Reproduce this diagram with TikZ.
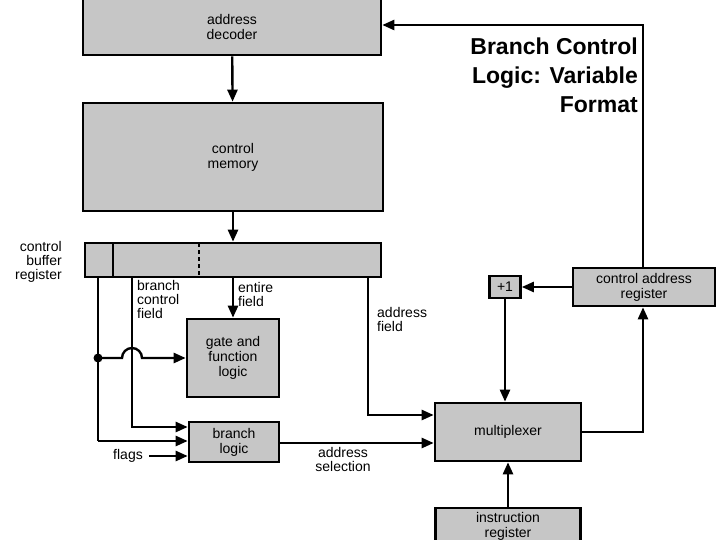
\documentclass[tikz,border=0pt]{standalone}
\usepackage{fontspec}
\setmainfont{Liberation Sans}
\usetikzlibrary{arrows.meta}
\begin{document}
\begin{tikzpicture}[x=1pt,y=-1pt,
  blk/.style={draw,line width=2.6pt,fill=gray!45,inner sep=0pt,font=\fontsize{14}{15}\selectfont,align=center},
  lbl/.style={font=\fontsize{14}{14}\selectfont,inner sep=0pt},
  wire/.style={line width=2.4pt},
  arr/.style={wire,-{Triangle[length=12pt,width=10pt]}}]
\useasboundingbox (0,0) rectangle (720,540);
\node[blk,minimum width=298,minimum height=56] (dec) at (232,27) {address\\decoder};
\node[blk,minimum width=300,minimum height=108] (mem) at (233,157) {control\\memory};
\node[blk,minimum width=296,minimum height=34] (cbr) at (233,260) {};
\draw[wire] (113,243) -- (113,277);
\draw[wire,dash pattern=on 4pt off 3pt] (199,243) -- (199,277);
\node[blk,minimum width=92,minimum height=78] (gfl) at (233,358) {gate and\\function\\logic};
\node[blk,minimum width=90,minimum height=40] (brl) at (234,442) {branch\\logic};
\node[blk,minimum width=146,minimum height=58] (mux) at (508,432) {multiplexer};
\node[blk,minimum width=145,minimum height=36] (ir) at (508,526) {instruction\\register};
\node[blk,minimum width=31,minimum height=22] (inc) at (505,287) {+1};
\node[blk,minimum width=142,minimum height=38] (car) at (644,287) {control address\\register};

\node[lbl,align=right,anchor=north east] (cbrl) at (62,241) {control\\buffer\\register};
\node[lbl,align=left,anchor=north west] (bcf) at (137,280) {branch\\control\\field};
\node[lbl,align=left,anchor=north west] (ef) at (238,282) {entire\\field};
\node[lbl,align=left,anchor=north west] (af) at (377,307) {address\\field};
\node[lbl,anchor=east] (flg) at (143,456) {flags};
\node[lbl,align=center,anchor=north] (asel) at (343,447) {address\\selection};
\node[font=\bfseries\fontsize{23}{29}\selectfont,align=right,anchor=north east,inner sep=0pt] (title) at (638,38) {Branch Control\\Logic: Variable\\Format};

\draw[arr] (dec) -- (mem);
\draw[arr] (mem) -- (cbr);
\draw[arr] (cbr.south -| gfl.north) -- (gfl);
\coordinate (dot) at (98,358);
\fill (dot) circle (4.5);
\draw[wire] (98,277) -- (98,441);
\draw[arr] (98,441) -- (brl.west |- 0,441);
\draw[arr] (dot) -- (122,358) arc[start angle=180,end angle=360,radius=10] -- (gfl.west |- dot);
\draw[arr] (132,277) -- (132,427) -- (brl.west |- 0,427);
\draw[arr] (flg.east) ++(6,0) -- (brl.west |- 0,456);
\draw[arr] (368,277) -- (368,415) -- (mux.west |- 0,415);
\draw[arr] (brl.east |- 0,443) -- (mux.west |- 0,443);
\draw[arr] (ir) -- (mux);
\draw[arr] (inc) -- (inc |- mux.north);
\draw[arr] (car) -- (inc);
\draw[arr] (mux.east) -- (643,432) -- (car.south -| 643,0);
\draw[arr] (car.north -| 643,0) -- (643,25) -- (dec.east |- 0,25);
\end{tikzpicture}
\end{document}
